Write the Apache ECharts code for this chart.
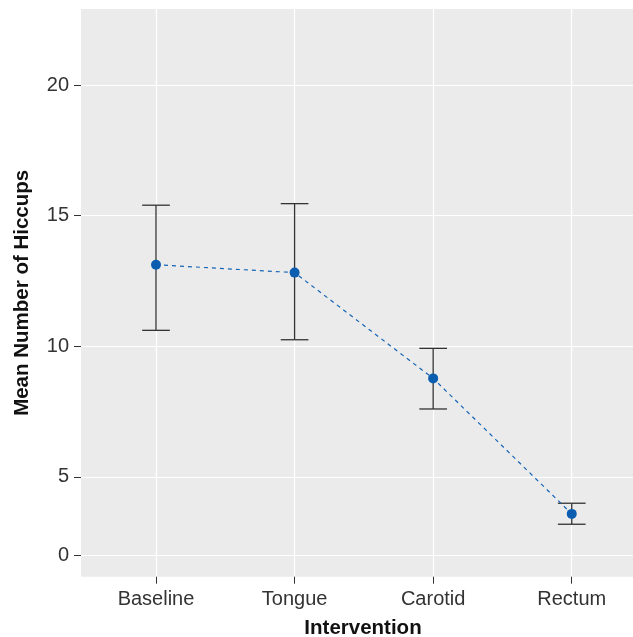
<!DOCTYPE html>
<html>
<head>
<meta charset="utf-8">
<script src="https://cdn.jsdelivr.net/npm/echarts@6/dist/echarts.min.js"></script>
<style>html,body{margin:0;padding:0;background:#fff;}#chart{width:633px;height:637px;}</style>
</head>
<body>
<div id="chart"></div>
<script>
// ---- data ----
const categories = ['Baseline', 'Tongue', 'Carotid', 'Rectum'];
const meanHiccups = [13.12, 12.82, 8.77, 2.64];
const ciLower = [10.61, 10.25, 7.60, 1.98];
const ciUpper = [15.40, 15.46, 9.92, 3.32];
const yTickLabels = [0, 5, 10, 15, 20];

// The reference's y scale is compressed below 5 (0-5 spans 0.6 of a normal 5-unit step)
const BREAK = 5, LOW_SCALE = 0.6;
function tf(v) { return v >= BREAK ? v : BREAK - (BREAK - v) * LOW_SCALE; }

const yTickPos = yTickLabels.map(tf);
const xPos = categories.map((c, i) => i + 1);

const lineData = meanHiccups.map((m, i) => [xPos[i], tf(m)]);
const errData = categories.map((c, i) => [xPos[i], tf(ciLower[i]), tf(ciUpper[i])]);

const FONT = '"Liberation Sans", Arial, Helvetica, sans-serif';
const chart = echarts.init(document.getElementById('chart'), null, { renderer: 'canvas' });

chart.setOption({
  animation: false,
  backgroundColor: '#ffffff',
  grid: {
    left: 81, right: 0, top: 9, bottom: 60.3,
    outerBoundsMode: 'none', containLabel: false,
    show: true, backgroundColor: '#EBEBEB', borderWidth: 0
  },
  xAxis: {
    type: 'value',
    min: 0.4588, max: 4.442,
    axisLine: { show: false },
    axisTick: { show: true, length: 7, lineStyle: { color: '#333', width: 1 }, customValues: xPos },
    axisLabel: {
      customValues: xPos, margin: 13,
      color: '#333', fontSize: 20, fontFamily: FONT,
      formatter: v => categories[Math.round(v) - 1] || ''
    },
    splitLine: { show: true, lineStyle: { color: '#ffffff', width: 1.2 } },
    name: 'Intervention', nameLocation: 'middle', nameGap: 41,
    nameTextStyle: { color: '#111', fontSize: 20.5, fontWeight: 'bold', fontFamily: FONT, padding: [0, 0, 0, 12] }
  },
  yAxis: {
    type: 'value',
    min: 1.18, max: 22.91,
    axisLine: { show: false },
    axisTick: { show: true, length: 7, lineStyle: { color: '#333', width: 1 }, customValues: yTickPos },
    axisLabel: {
      customValues: yTickPos, margin: 12,
      color: '#333', fontSize: 20, fontFamily: FONT,
      formatter: v => {
        const i = yTickPos.findIndex(p => Math.abs(p - v) < 1e-6);
        return i >= 0 ? String(yTickLabels[i]) : '';
      }
    },
    splitLine: { show: true, lineStyle: { color: '#ffffff', width: 1.2 } },
    name: 'Mean Number of Hiccups', nameLocation: 'middle', nameGap: 48,
    nameTextStyle: { color: '#111', fontSize: 20.5, fontWeight: 'bold', fontFamily: FONT }
  },
  series: [
    {
      type: 'custom',
      z: 2,
      data: errData,
      renderItem: function (params, api) {
        const x = api.value(0);
        const lo = api.coord([x, api.value(1)]);
        const hi = api.coord([x, api.value(2)]);
        const hw = api.size([0.1, 0])[0];
        const style = { stroke: '#333', lineWidth: 1.3 };
        return {
          type: 'group',
          children: [
            { type: 'line', shape: { x1: lo[0], y1: lo[1], x2: hi[0], y2: hi[1] }, style: style },
            { type: 'line', shape: { x1: lo[0] - hw, y1: lo[1], x2: lo[0] + hw, y2: lo[1] }, style: style },
            { type: 'line', shape: { x1: hi[0] - hw, y1: hi[1], x2: hi[0] + hw, y2: hi[1] }, style: style }
          ]
        };
      }
    },
    {
      type: 'line',
      z: 3,
      data: lineData,
      symbol: 'circle',
      symbolSize: 10,
      itemStyle: { color: '#0B5EAF' },
      lineStyle: { color: '#1565B5', width: 1.2, type: [4, 4] }
    }
  ]
});
</script>
</body>
</html>
